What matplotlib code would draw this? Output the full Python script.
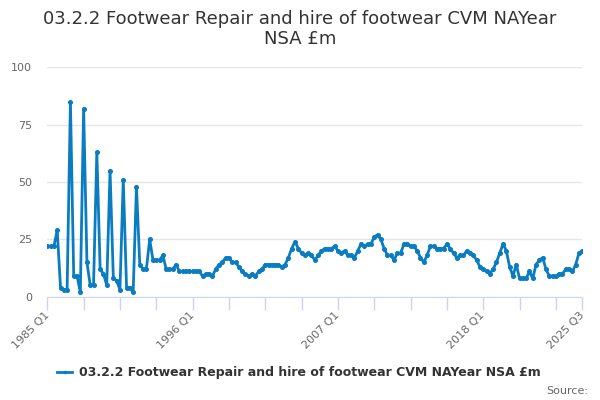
import numpy as np
import matplotlib
matplotlib.use("Agg")
import matplotlib.pyplot as plt

# quarterly series, 1985 Q1 .. 2025 Q3
start_year = 1985
values = [
    22, 22, 22, 29, 4, 3, 3, 85, 9, 9,
    2, 82, 15, 5, 5, 63, 12, 10, 5, 55,
    8, 7, 3, 51, 4, 4, 2, 48, 14, 12,
    12, 25, 16, 16, 16, 18, 12, 12, 12, 14,
    11, 11, 11, 11, 11, 11, 11, 9, 10, 10,
    9, 12, 14, 15, 17, 17, 15, 15, 13, 11,
    10, 9, 10, 9, 11, 12, 14, 14, 14, 14,
    14, 13, 14, 17, 21, 24, 21, 19, 18, 19,
    18, 16, 18, 20, 21, 21, 21, 22, 20, 19,
    20, 18, 18, 17, 20, 23, 22, 23, 23, 26,
    27, 25, 21, 18, 18, 16, 19, 19, 23, 23,
    22, 22, 20, 17, 15, 18, 22, 22, 21, 21,
    21, 23, 21, 19, 17, 18, 18, 20, 19, 18,
    16, 13, 12, 11, 10, 12, 15, 19, 23, 20,
    13, 9, 14, 8, 8, 8, 11, 8, 14, 16,
    17, 12, 9, 9, 9, 10, 10, 12, 12, 11,
    14, 19, 20,
]
series_name = "03.2.2 Footwear Repair and hire of footwear CVM NAYear NSA £m"
title = "03.2.2 Footwear Repair and hire of footwear CVM NAYear\nNSA £m"
labelled_ticks = ["1985 Q1", "1996 Q1", "2007 Q1", "2018 Q1", "2025 Q3"]

quarters = [f"{start_year + i // 4} Q{i % 4 + 1}" for i in range(len(values))]
x = np.arange(len(values))

fig = plt.figure(figsize=(6, 4), dpi=100)
ax = fig.add_axes([47.3 / 600, 1 - 296.7 / 400, 535 / 600, 229.4 / 400])

ax.plot(x, values, color="#0a7cc2", lw=2, marker="o", ms=2.6,
        label=series_name, zorder=3)

ax.set_xlim(0, len(values) - 1)
ax.set_ylim(0, 100)
ax.set_yticks([0, 25, 50, 75, 100])
ax.grid(axis="y", color="#e6e6e6", lw=1)
ax.set_axisbelow(True)

ticks = list(range(0, len(values), 11))
if ticks[-1] != len(values) - 1:
    ticks.append(len(values) - 1)
ax.set_xticks(ticks)
ax.set_xticklabels([quarters[t] if quarters[t] in labelled_ticks else "" for t in ticks],
                   rotation=45, ha="right", va="center", rotation_mode="anchor")

for s in ["top", "right", "left"]:
    ax.spines[s].set_visible(False)
ax.spines["bottom"].set_color("#ccd6eb")
ax.tick_params(axis="x", colors="#ccd6eb", length=9, width=1, labelcolor="#666666",
               labelsize=8, pad=3)
ax.tick_params(axis="y", length=0, labelcolor="#666666", labelsize=8, pad=11)

fig.text(0.5, 0.927, title, ha="center", va="center", fontsize=13, color="#333333",
         linespacing=1.15)

leg = fig.legend(loc="center", bbox_to_anchor=(0.498, 0.068), frameon=False,
                 prop={"size": 9, "weight": "bold"}, handlelength=1.2,
                 handletextpad=0.5, markerscale=0.6)
for t in leg.get_texts():
    t.set_color("#333333")

fig.text(588 / 600, 1 - 391 / 400, "Source:", ha="right", va="center",
         fontsize=8, color="#666666")

fig.savefig("out.png", dpi=100)
